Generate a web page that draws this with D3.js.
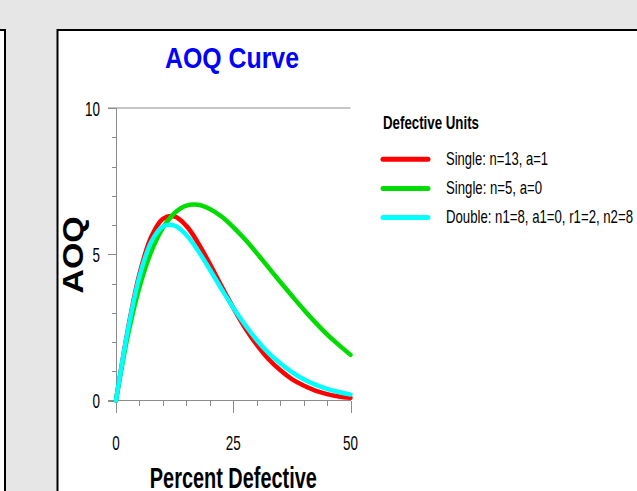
<!DOCTYPE html>
<html>
<head>
<meta charset="utf-8">
<script src="https://cdn.jsdelivr.net/npm/d3@7"></script>
<style>
  html, body { margin: 0; padding: 0; background: #e6e6e6; }
  svg { display: block; }
  text { font-family: "Liberation Sans", Arial, sans-serif; }
</style>
</head>
<body>
<script>
// ---- data ----
const percentDefective = [0, 2.5, 5, 7.5, 10, 12.5, 15, 17.5, 20, 22.5, 25, 27.5, 30, 32.5, 35, 37.5, 40, 42.5, 45, 47.5, 50];
const aoqSingle13 = [0, 2.40, 4.32, 5.59, 6.21, 6.29, 5.97, 5.39, 4.67, 3.91, 3.17, 2.49, 1.91, 1.42, 1.04, 0.73, 0.51, 0.34, 0.22, 0.14, 0.09];
const aoqSingle5  = [0, 2.20, 3.87, 5.08, 5.90, 6.41, 6.66, 6.69, 6.55, 6.29, 5.93, 5.51, 5.04, 4.55, 4.06, 3.58, 3.11, 2.67, 2.26, 1.90, 1.56];
const aoqDouble   = [0, 2.38, 4.24, 5.42, 5.95, 5.98, 5.66, 5.12, 4.48, 3.81, 3.17, 2.59, 2.07, 1.63, 1.27, 0.97, 0.73, 0.54, 0.40, 0.29, 0.20];
const seriesNames = ["Single: n=13, a=1", "Single: n=5, a=0", "Double: n1=8, a1=0, r1=2, n2=8"];
const seriesColors = ["#ff0000", "#00dc00", "#00ffff"];
const xMajorTicks = [0, 25, 50];
const yMajorTicks = [0, 5, 10];
const chartTitle = "AOQ Curve";
const xTitle = "Percent Defective";
const yTitle = "AOQ";
const legendTitle = "Defective Units";

const W = 637, H = 491;
const svg = d3.select("body").append("svg").attr("width", W).attr("height", H);

// background panels
svg.append("rect").attr("x", 0).attr("y", 0).attr("width", W).attr("height", H).attr("fill", "#e6e6e6");
svg.append("rect").attr("x", 0).attr("y", 30).attr("width", 5).attr("height", H - 30).attr("fill", "#fff");
svg.append("path").attr("d", "M0,30H5V491").attr("fill", "none").attr("stroke", "#000").attr("stroke-width", 2);
svg.append("rect").attr("x", 57.5).attr("y", 30).attr("width", W - 57.5).attr("height", H - 30).attr("fill", "#fff");
svg.append("path").attr("d", "M57.5,491V30H637").attr("fill", "none").attr("stroke", "#000").attr("stroke-width", 2);

function condense(sel, width) {
  sel.attr("textLength", width).attr("lengthAdjust", "spacingAndGlyphs");
}
function squash(sel, f) {
  sel.each(function() {
    const w = this.getComputedTextLength();
    d3.select(this).attr("textLength", w * f).attr("lengthAdjust", "spacingAndGlyphs");
  });
}

const x = d3.scaleLinear().domain([0, 50]).range([116, 350.5]);
const y = d3.scaleLinear().domain([0, 10]).range([400.5, 108]);
const axisColor = "#8c8c8c";

// top frame line
svg.append("line").attr("x1", 108).attr("x2", x(50)).attr("y1", y(10)).attr("y2", y(10))
  .attr("stroke", axisColor).attr("stroke-width", 1);

// y axis
const yMinor = svg.append("g").attr("transform", `translate(${x(0)},0)`)
  .call(d3.axisLeft(y).ticks(10).tickSize(4).tickFormat(""));
const yMajor = svg.append("g").attr("transform", `translate(${x(0)},0)`)
  .call(d3.axisLeft(y).tickValues(yMajorTicks).tickSize(8).tickFormat(""));
[yMinor, yMajor].forEach(g => {
  g.selectAll("path,line").attr("stroke", axisColor).attr("shape-rendering", "crispEdges");
  g.select(".domain").attr("d", `M0,${y(10)}V${y(0)}`);
});

// x axis
const xMinor = svg.append("g").attr("transform", `translate(0,${y(0)})`)
  .call(d3.axisBottom(x).ticks(10).tickSize(5).tickFormat(""));
const xMajor = svg.append("g").attr("transform", `translate(0,${y(0)})`)
  .call(d3.axisBottom(x).tickValues(xMajorTicks).tickSize(12).tickFormat(""));
[xMinor, xMajor].forEach(g => {
  g.selectAll("path,line").attr("stroke", axisColor).attr("shape-rendering", "crispEdges");
  g.select(".domain").attr("d", `M${108},0H${x(50)}`);
});

// tick labels
svg.append("g").selectAll("text").data(yMajorTicks).join("text")
  .attr("x", 100).attr("y", d => y(d) + 7.5)
  .attr("text-anchor", "end").attr("font-size", 21).attr("fill", "#000")
  .text(d => d).call(squash, 0.64);
svg.append("g").selectAll("text").data(xMajorTicks).join("text")
  .attr("x", d => x(d)).attr("y", 450)
  .attr("text-anchor", "middle").attr("font-size", 21).attr("fill", "#000")
  .text(d => d).call(squash, 0.64);

// titles
svg.append("text").attr("x", 232).attr("y", 68.3).attr("text-anchor", "middle")
  .attr("font-size", 30).attr("font-weight", "bold").attr("fill", "#0000ff")
  .text(chartTitle).call(condense, 134);
svg.append("text").attr("x", 233.3).attr("y", 488).attr("text-anchor", "middle")
  .attr("font-size", 29).attr("font-weight", "bold").attr("fill", "#000")
  .text(xTitle).call(condense, 167);
svg.append("text").attr("transform", "translate(83.3,255) rotate(-90)").attr("text-anchor", "middle")
  .attr("font-size", 30).attr("font-weight", "bold").attr("fill", "#000")
  .text(yTitle).call(condense, 77);

// curves
const seriesData = [aoqSingle13, aoqSingle5, aoqDouble];
const line = d3.line().x(d => x(d[0])).y(d => y(d[1])).curve(d3.curveCatmullRom.alpha(0.5));
seriesData.forEach((vals, i) => {
  svg.append("path")
    .attr("d", line(percentDefective.map((p, k) => [p, vals[k]])))
    .attr("fill", "none").attr("stroke", seriesColors[i]).attr("stroke-width", 4.5)
    .attr("stroke-linejoin", "round").attr("stroke-linecap", "round");
});

// legend
svg.append("text").attr("x", 383).attr("y", 128.5)
  .attr("font-size", 17.5).attr("font-weight", "bold").attr("fill", "#000")
  .text(legendTitle).call(condense, 96);
const legendLineY = [159.3, 188.5, 217.5];
const legendWidths = [102, 96, 187];
seriesNames.forEach((name, i) => {
  svg.append("line").attr("x1", 383).attr("x2", 428)
    .attr("y1", legendLineY[i]).attr("y2", legendLineY[i])
    .attr("stroke", seriesColors[i]).attr("stroke-width", 5).attr("stroke-linecap", "round");
  svg.append("text").attr("x", 446).attr("y", legendLineY[i] + 5.3)
    .attr("font-size", 19).attr("fill", "#000")
    .text(name).call(condense, legendWidths[i]);
});
</script>
</body>
</html>
